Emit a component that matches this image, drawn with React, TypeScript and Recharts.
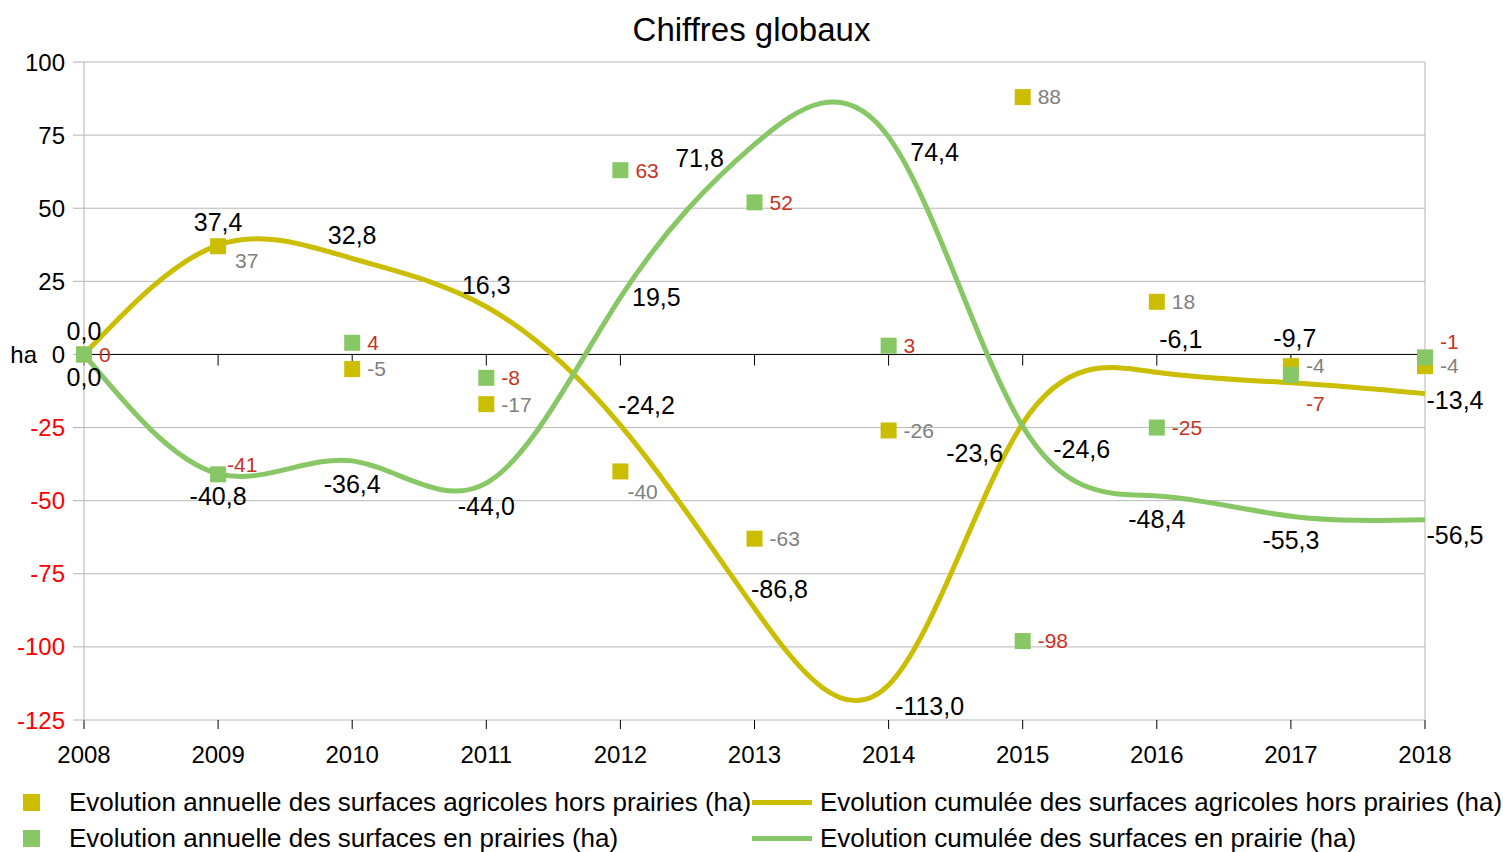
import {
  ComposedChart,
  Line,
  Scatter,
  XAxis,
  YAxis,
  CartesianGrid,
  ReferenceLine,
} from "recharts";

const years = [2008, 2009, 2010, 2011, 2012, 2013, 2014, 2015, 2016, 2017, 2018];
const annualCrops = [0, 37, -5, -17, -40, -63, -26, 88, 18, -4, -4];
const annualMeadows = [0, -41, 4, -8, 63, 52, 3, -98, -25, -7, -1];
const cumulCrops = [0, 37.4, 32.8, 16.3, -24.2, -86.8, -113.0, -23.6, -6.1, -9.7, -13.4];
const cumulMeadows = [0, -40.8, -36.4, -44.0, 19.5, 71.8, 74.4, -24.6, -48.4, -55.3, -56.5];
const yTicks = [-125, -100, -75, -50, -25, 0, 25, 50, 75, 100];

const YELLOW = "#cbbd00";
const GREEN = "#88c765";
const FONT = '"Liberation Sans", Arial, sans-serif';

const legendItems = [
  { label: "Evolution annuelle des surfaces agricoles hors prairies (ha)", kind: "square", color: YELLOW },
  { label: "Evolution cumulée des surfaces agricoles hors prairies (ha)", kind: "line", color: YELLOW },
  { label: "Evolution annuelle des surfaces en prairies (ha)", kind: "square", color: GREEN },
  { label: "Evolution cumulée des surfaces en prairie (ha)", kind: "line", color: GREEN },
];

const data = years.map((year, i) => ({
  year,
  annualCrops: annualCrops[i],
  annualMeadows: annualMeadows[i],
  cumulCrops: cumulCrops[i],
  cumulMeadows: cumulMeadows[i],
}));

// label offsets (px) for the cumulative lines
const cropsLabelOff = [
  [0, -23], [0, -23], [0, -23], [0, -22], [26, -20], [25, -19],
  [41, 21], [-48, 30], [24, -33], [4, -45], [30, 7],
];
const meadowsLabelOff = [
  [0, 23], [0, 22], [0, 23], [0, 23], [36, 0], [-55, 14],
  [46, 15], [59, 23], [0, 23], [0, 24], [30, 16],
];

const fmt = (v: number) => v.toFixed(1).replace(".", ",");

function lineLabel(offsets: number[][]) {
  return (props: any) => {
    const { cx, cy, index, value } = props;
    const [dx, dy] = offsets[index] || [0, 0];
    const v = Array.isArray(value) ? value[1] : value;
    return (
      <text
        key={"ll" + index}
        x={cx + dx}
        y={cy + dy}
        dy="0.35em"
        textAnchor="middle"
        fontSize={25}
        fontFamily={FONT}
        fill="#000"
      >
        {fmt(v)}
      </text>
    );
  };
}

function squareShape(color: string, labelColor: string, key: "annualCrops" | "annualMeadows") {
  return (props: any) => {
    const { cx, cy, payload } = props;
    const i = years.indexOf(payload.year);
    let dx = 15;
    let dy = 0;
    let show = true;
    if (key === "annualCrops") {
      if (i === 0) show = false;
      if (i === 1) { dx = 17; dy = 14; }
      if (i === 4) { dx = 7; dy = 20; }
    } else {
      if (i === 1) { dx = 9; dy = -10; }
      if (i === 9) { dx = 15; dy = 29; }
      if (i === 10) { dx = 15; dy = -16; }
    }
    return (
      <g>
        <rect x={cx - 8} y={cy - 8} width={16} height={16} fill={color} />
        {show && (
          <text
            x={cx + dx}
            y={cy + dy}
            dy="0.35em"
            fontSize={21}
            fontFamily={FONT}
            fill={labelColor}
          >
            {payload[key]}
          </text>
        )}
      </g>
    );
  };
}

const YTick = (props: any) => {
  const { x, y, payload } = props;
  return (
    <text
      x={x}
      y={y}
      dy="0.355em"
      textAnchor="end"
      fontSize={24}
      fontFamily={FONT}
      fill={payload.value < 0 ? "#ff0000" : "#000"}
    >
      {payload.value}
    </text>
  );
};

export default function App() {
  return (
    <div
      style={{
        position: "absolute",
        left: 0,
        top: 0,
        width: 1503,
        height: 852,
        background: "#fff",
        fontFamily: FONT,
      }}
    >
      <div
        style={{
          position: "absolute",
          top: 10,
          left: 0,
          width: 1503,
          textAlign: "center",
          fontSize: 33,
          lineHeight: "40px",
          color: "#000",
        }}
      >
        Chiffres globaux
      </div>

      <ComposedChart
        width={1503}
        height={852}
        data={data}
        margin={{ top: 62, right: 78, left: 0, bottom: 92 }}
      >
        <CartesianGrid vertical={false} stroke="#b8b8b8" />
        <XAxis
          dataKey="year"
          type="number"
          domain={[2008, 2018]}
          ticks={years}
          allowDecimals={false}
          axisLine={false}
          tickLine={{ stroke: "#000" }}
          tickSize={9}
          tickMargin={17}
          height={40}
          tick={{ fill: "#000", fontSize: 24, fontFamily: FONT }}
          interval={0}
        />
        <YAxis
          domain={[-125, 100]}
          ticks={yTicks}
          width={84}
          axisLine={{ stroke: "#b3b3b3" }}
          tickLine={{ stroke: "#b3b3b3" }}
          tickSize={11}
          tickMargin={8}
          tick={<YTick />}
          interval={0}
        />
        <ReferenceLine x={2018} stroke="#b3b3b3" />
        <ReferenceLine
          y={0}
          stroke="#000"
          label={{ value: "ha", position: "left", offset: 47, fill: "#000", fontSize: 24, fontFamily: FONT }}
        />
        {years.map((yr) => (
          <ReferenceLine
            key={"t" + yr}
            segment={[{ x: yr, y: 0 }, { x: yr, y: -3.8 }]}
            stroke="#000"
          />
        ))}
        <Line
          dataKey="cumulCrops"
          type="natural"
          stroke={YELLOW}
          strokeWidth={5}
          dot={lineLabel(cropsLabelOff)}
          activeDot={false}
          isAnimationActive={false}
        />
        <Line
          dataKey="cumulMeadows"
          type="natural"
          stroke={GREEN}
          strokeWidth={5}
          dot={lineLabel(meadowsLabelOff)}
          activeDot={false}
          isAnimationActive={false}
        />
        <Scatter
          dataKey="annualCrops"
          shape={squareShape(YELLOW, "#808080", "annualCrops")}
          isAnimationActive={false}
        />
        <Scatter
          dataKey="annualMeadows"
          shape={squareShape(GREEN, "#c9321e", "annualMeadows")}
          isAnimationActive={false}
        />
      </ComposedChart>

      {legendItems.map((it, i) => {
        const col = i % 2;
        const row = Math.floor(i / 2);
        const left = col === 0 ? 23 : 752;
        const top = 802 + row * 36;
        return (
          <div
            key={it.label}
            style={{
              position: "absolute",
              left,
              top: top - 16,
              height: 32,
              display: "flex",
              alignItems: "center",
              fontSize: 26,
              whiteSpace: "nowrap",
              color: "#000",
            }}
          >
            {it.kind === "square" ? (
              <span style={{ display: "inline-block", width: 17, height: 17, background: it.color, marginRight: 29 }} />
            ) : (
              <span style={{ display: "inline-block", width: 60, height: 5, background: it.color, marginRight: 8 }} />
            )}
            {it.label}
          </div>
        );
      })}
    </div>
  );
}
